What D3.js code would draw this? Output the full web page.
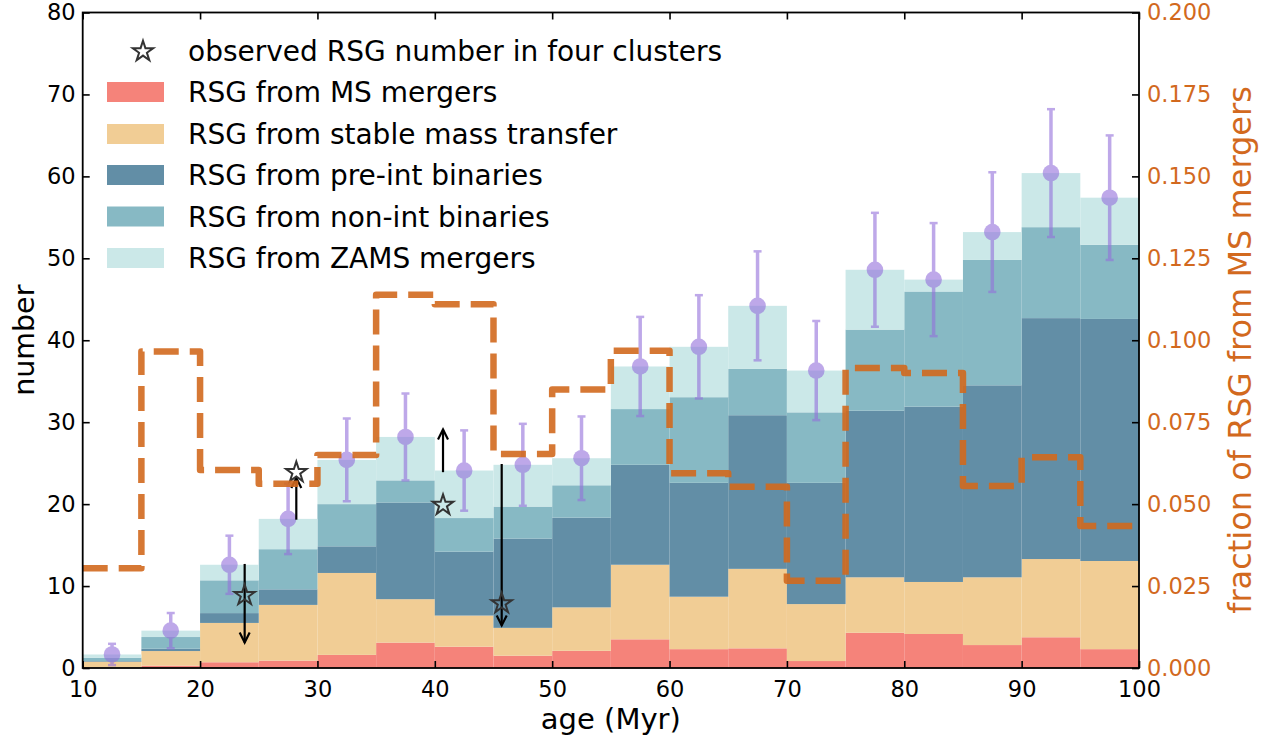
<!DOCTYPE html>
<html>
<head>
<meta charset="utf-8">
<script src="https://cdn.jsdelivr.net/npm/d3@7"></script>
<style>
  body { margin: 0; background: #fff; }
  svg { font-family: "DejaVu Sans", sans-serif; }
</style>
</head>
<body>
<div id="chart"></div>
<script>
// ---- data ----
var ageEdges = [10, 15, 20, 25, 30, 35, 40, 45, 50, 55, 60, 65, 70, 75, 80, 85, 90, 95, 100];

// stacked components (own height of each layer, per 5 Myr bin)
var msMergers = [0.05, 0.28, 0.7, 0.9, 1.6, 3.1, 2.6, 1.5, 2.1, 3.5, 2.3, 2.4, 0.85, 4.3, 4.15, 2.8, 3.75, 2.3];
var stableMT  = [0.72, 1.79, 4.8, 6.8, 10.0, 5.3, 3.8, 3.4, 5.3, 9.1, 6.4, 9.7, 6.95, 6.77, 6.35, 8.27, 9.55, 10.76];
var preInt    = [0.08, 0.28, 1.2, 1.9, 3.25, 11.8, 7.8, 10.9, 10.95, 12.2, 13.9, 18.75, 14.8, 20.33, 21.4, 23.43, 29.4, 29.54];
var nonInt    = [0.41, 1.43, 4.0, 4.9, 5.15, 2.7, 4.1, 3.9, 3.95, 6.8, 10.45, 5.65, 8.6, 9.9, 14.05, 15.3, 11.1, 9.05];
var zamsMerg  = [0.39, 0.78, 1.9, 3.7, 5.4, 5.3, 5.8, 5.1, 3.3, 5.2, 6.15, 7.7, 5.1, 7.3, 1.45, 3.4, 6.6, 5.75];

// error on total number (symmetric)
var totalErr = [1.3, 2.15, 3.55, 4.3, 5.05, 5.3, 4.9, 5.0, 5.1, 6.05, 6.3, 6.65, 6.05, 6.95, 6.9, 7.3, 7.8, 7.6];

// fraction of RSG from MS mergers (right axis)
var msFraction = [0.0304, 0.0966, 0.0604, 0.0562, 0.065, 0.1139, 0.111, 0.0653, 0.085, 0.0968, 0.0594, 0.0553, 0.0266, 0.0915, 0.090, 0.0555, 0.0643, 0.0433];

// observed clusters
var obsAge = [23.8, 28.2, 40.7, 45.7];
var obsNum = [9, 24, 20, 8];
var arrowFrom = [12.7, 18.1, 23.9, 24.9];
var arrowTo   = [3.1, 23.2, 29.1, 5.2];

var layerKeys   = ["ms", "smt", "pre", "non", "zams"];
var layerNames  = ["RSG from MS mergers", "RSG from stable mass transfer", "RSG from pre-int binaries",
                   "RSG from non-int binaries", "RSG from ZAMS mergers"];
var layerColors = ["#f5837a", "#f1cd95", "#628ea6", "#87b9c4", "#cbe8e8"];

var xTicks = [10, 20, 30, 40, 50, 60, 70, 80, 90, 100];
var yTicks = [0, 10, 20, 30, 40, 50, 60, 70, 80];
var fTicks = [0, 0.025, 0.05, 0.075, 0.1, 0.125, 0.15, 0.175, 0.2];

// ---- layout ----
var W = 1282, H = 742;
var plot = {left: 82.7, right: 1139, top: 12.5, bottom: 668};
var orange = "#d2691e";

var svg = d3.select("#chart").append("svg")
    .attr("width", W).attr("height", H);

var x = d3.scaleLinear().domain([10, 100]).range([plot.left, plot.right]);
var y = d3.scaleLinear().domain([0, 80]).range([plot.bottom, plot.top]);
var yf = d3.scaleLinear().domain([0, 0.2]).range([plot.bottom, plot.top]);

// build table for the stack
var table = msMergers.map(function(d, i) {
    return {x0: ageEdges[i], x1: ageEdges[i + 1],
            ms: d, smt: stableMT[i], pre: preInt[i], non: nonInt[i], zams: zamsMerg[i]};
});
var series = d3.stack().keys(layerKeys)(table);

// bars
svg.append("g").selectAll("g")
    .data(series)
    .enter().append("g")
    .attr("fill", function(d, i) { return layerColors[i]; })
    .selectAll("rect")
    .data(function(d) { return d; })
    .enter().append("rect")
    .attr("x", function(d) { return x(d.data.x0); })
    .attr("width", function(d) { return x(d.data.x1) - x(d.data.x0); })
    .attr("y", function(d) { return y(d[1]); })
    .attr("height", function(d) { return y(d[0]) - y(d[1]); });

// model totals with error bars
var purple = "#9370db";
var pts = svg.append("g").attr("opacity", 0.6);
table.forEach(function(d, i) {
    var cx = x((d.x0 + d.x1) / 2);
    var tot = d.ms + d.smt + d.pre + d.non + d.zams;
    var g = pts.append("g");
    g.append("line")
        .attr("x1", cx).attr("x2", cx)
        .attr("y1", y(tot - totalErr[i])).attr("y2", y(tot + totalErr[i]))
        .attr("stroke", purple).attr("stroke-width", 3.5);
    [tot - totalErr[i], tot + totalErr[i]].forEach(function(v) {
        g.append("line")
            .attr("x1", cx - 4).attr("x2", cx + 4)
            .attr("y1", y(v)).attr("y2", y(v))
            .attr("stroke", purple).attr("stroke-width", 2.5);
    });
    g.append("circle").attr("cx", cx).attr("cy", y(tot)).attr("r", 8.3).attr("fill", purple);
});

// observed stars + arrows
var star = d3.symbol().type(d3.symbolStar).size(130);
function arrow(g, xa, ya0, ya1) {
    var dir = ya1 > ya0 ? 1 : -1;
    g.append("line")
        .attr("x1", xa).attr("x2", xa).attr("y1", ya0).attr("y2", ya1)
        .attr("stroke", "#000").attr("stroke-width", 2.2);
    g.append("path")
        .attr("d", "M" + (xa - 5) + "," + (ya1 - dir * 10) + "L" + xa + "," + ya1 + "L" + (xa + 5) + "," + (ya1 - dir * 10))
        .attr("fill", "none").attr("stroke", "#000").attr("stroke-width", 2.2);
}
var obs = svg.append("g");
obsAge.forEach(function(a, i) {
    arrow(obs, x(a), y(arrowFrom[i]), y(arrowTo[i]));
    obs.append("path")
        .attr("d", star)
        .attr("transform", "translate(" + x(a) + "," + (y(obsNum[i]) + 1) + ")")
        .attr("fill", "none").attr("stroke", "#333").attr("stroke-width", 2);
});

// fraction step line (twin axis, drawn on top)
var stepPts = msFraction.map(function(f, i) { return [ageEdges[i], f]; });
stepPts.push([ageEdges[ageEdges.length - 1], msFraction[msFraction.length - 1]]);
var stepLine = d3.line()
    .x(function(d) { return x(d[0]); })
    .y(function(d) { return yf(d[1]); })
    .curve(d3.curveStepAfter);
svg.append("path")
    .datum(stepPts)
    .attr("d", stepLine)
    .attr("fill", "none")
    .attr("stroke", orange)
    .attr("stroke-opacity", 0.9)
    .attr("stroke-width", 6.5)
    .attr("stroke-dasharray", "25,11")
    .attr("stroke-linejoin", "round");

// axes (ticks pointing inward)
var axB = svg.append("g")
    .attr("transform", "translate(0," + plot.bottom + ")")
    .call(d3.axisBottom(x).tickValues(xTicks).tickSizeInner(-7).tickSizeOuter(0).tickPadding(13));
var axT = svg.append("g")
    .attr("transform", "translate(0," + plot.top + ")")
    .call(d3.axisTop(x).tickValues(xTicks).tickSizeInner(-7).tickSizeOuter(0).tickFormat(""));
var axL = svg.append("g")
    .attr("transform", "translate(" + plot.left + ",0)")
    .call(d3.axisLeft(y).tickValues(yTicks).tickSizeInner(-7).tickSizeOuter(0).tickPadding(7));
var axR = svg.append("g")
    .attr("transform", "translate(" + plot.right + ",0)")
    .call(d3.axisRight(yf).tickValues(fTicks).tickSizeInner(-7).tickSizeOuter(0).tickPadding(8)
        .tickFormat(d3.format(".3f")));

[axB, axT, axL, axR].forEach(function(a) {
    a.select(".domain").remove();
    a.selectAll(".tick line").attr("stroke", "#000").attr("stroke-width", 1.6);
    a.selectAll("text").attr("font-size", 22.5).attr("font-family", "DejaVu Sans").attr("fill", "#000");
});
axR.selectAll("text").attr("fill", orange);

// frame
svg.append("rect")
    .attr("x", plot.left).attr("y", plot.top)
    .attr("width", plot.right - plot.left).attr("height", plot.bottom - plot.top)
    .attr("fill", "none").attr("stroke", "#000").attr("stroke-width", 1.8);

// axis titles
svg.append("text")
    .attr("x", (plot.left + plot.right) / 2).attr("y", 729)
    .attr("text-anchor", "middle").attr("font-size", 29)
    .text("age (Myr)");
svg.append("text")
    .attr("transform", "translate(34," + ((plot.top + plot.bottom) / 2) + ") rotate(-90)")
    .attr("text-anchor", "middle").attr("font-size", 28.5)
    .text("number");
svg.append("text")
    .attr("transform", "translate(1251,350) rotate(-90)")
    .attr("text-anchor", "middle").attr("font-size", 32).attr("fill", orange)
    .text("fraction of RSG from MS mergers");

// legend
var leg = svg.append("g");
var rowY = [50.5, 92, 134, 175, 216.5, 258];
leg.append("path")
    .attr("d", star)
    .attr("transform", "translate(143," + (rowY[0] + 1) + ")")
    .attr("fill", "none").attr("stroke", "#333").attr("stroke-width", 2);
leg.append("text")
    .attr("x", 188).attr("y", rowY[0]).attr("dy", "0.36em").attr("font-size", 28)
    .text("observed RSG number in four clusters");
layerNames.forEach(function(name, i) {
    leg.append("rect")
        .attr("x", 107).attr("y", rowY[i + 1] - 10)
        .attr("width", 57).attr("height", 20)
        .attr("fill", layerColors[i]);
    leg.append("text")
        .attr("x", 188).attr("y", rowY[i + 1]).attr("dy", "0.36em").attr("font-size", 28)
        .text(name);
});
</script>
</body>
</html>
